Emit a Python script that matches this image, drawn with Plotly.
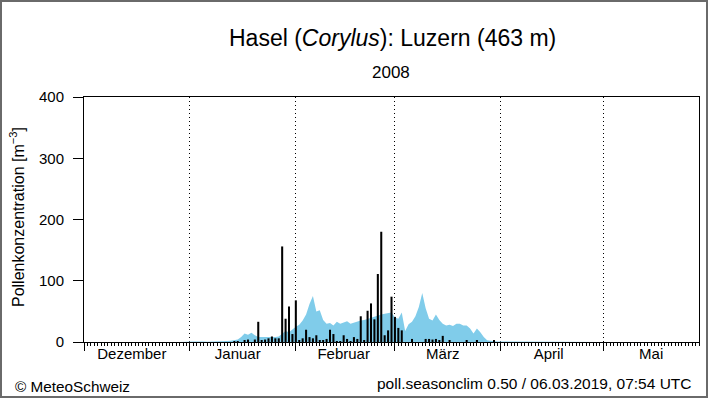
import plotly.graph_objects as go

# ---------------- data ----------------
month_names = ["Dezember", "Januar", "Februar", "März", "April", "Mai"]
month_starts = [0, 31, 62, 91, 122, 152]          # day index, 0 = 1 Dec 2007
label_day_offset = 14                              # labels sit at the 15th
y_ticks = [0, 100, 200, 300, 400]

# daily pollen counts (black bars)
bar_days = [44, 45, 47, 48, 50, 51, 52, 53, 54, 55, 56, 57, 58, 59, 60, 61, 62,
            63, 64, 65, 66, 67, 68, 69, 70, 71, 72, 73, 74, 75, 76, 77, 78, 79,
            80, 81, 82, 83, 84, 85, 86, 87, 88, 89, 90, 91, 92, 93, 96, 100,
            101, 102, 103, 104, 105, 107, 112, 115, 120]
bar_vals = [1, 1, 2, 4, 4, 33, 2, 4, 6, 9, 6, 6, 156, 38, 58, 13, 68,
            3, 6, 20, 8, 6, 11, 2, 2, 5, 20, 13, 1, 1, 11, 5, 1, 8,
            5, 42, 3, 51, 63, 37, 111, 180, 11, 19, 74, 41, 23, 19, 5, 5,
            5, 4, 5, 3, 10, 2, 2, 2, 2]

# climatology (blue area)
clim_days = list(range(28, 152))
clim_vals = [0, 0.5, 0.5, 0.5, 1, 1, 1.5, 1, 0.5, 0.5, 1, 1.5, 1, 1, 1.5, 2,
             3, 4, 8, 14, 12, 15, 11, 8, 8, 8, 8, 7, 8, 9, 14, 18, 16, 21,
             25, 28, 35, 45, 62, 75, 50, 52, 36, 30, 31, 27, 33, 30, 32, 34,
             30, 32, 34, 35, 36, 38, 40, 42, 44, 45, 46, 47, 48, 40, 38, 48,
             18, 29, 33, 42, 57, 80, 55, 38, 35, 45, 36, 30, 27, 28, 26, 30,
             30, 27, 27, 22, 14, 22, 16, 8, 3, 2, 1, 1, 1, 1, 1, 1, 1, 1,
             1, 1, 1, 1, 1, 1, 1, 1, 1, 1, 1, 1, 1, 0.5, 0.5, 0.5, 0.5, 0.5,
             0.5, 0.5, 0.5, 0.5, 0.5, 0]

x_range = [0, 180]
y_range = [0, 400]

# ---------------- style ----------------
FONT = "Liberation Sans, Arial, Helvetica, sans-serif"
BLUE = "#80CCEA"
W, H = 708, 398
ML, MR, MT, MB = 84, 9, 97, 56
PW, PH = W - ML - MR, H - MT - MB

fig = go.Figure()
fig.add_trace(go.Scatter(x=clim_days, y=clim_vals, mode="lines", fill="tozeroy",
                         line=dict(width=0, color=BLUE), fillcolor=BLUE,
                         hoverinfo="skip", showlegend=False))
# bars live on the overlaying x2 axis so they are drawn above the blue area
fig.add_trace(go.Bar(x=bar_days, y=bar_vals, width=0.6, xaxis="x2", yaxis="y",
                     marker=dict(color="black", line=dict(width=0)),
                     showlegend=False))

label_pos = [m + label_day_offset for m in month_starts]

fig.update_layout(
    width=W, height=H,
    margin=dict(l=ML, r=MR, t=MT, b=MB, autoexpand=False),
    paper_bgcolor="white", plot_bgcolor="white",
    font=dict(family=FONT, color="black", size=15),
    showlegend=False,
    xaxis=dict(range=x_range, tickmode="array", tickvals=month_starts,
               ticks="outside", ticklen=8, tickcolor="black", tickwidth=1,
               showticklabels=False, showline=True, linecolor="black",
               linewidth=1, mirror=True, showgrid=True, gridcolor="black",
               griddash="1px,3px", gridwidth=1, zeroline=False,
               automargin=False,
               minor=dict(tickmode="linear", tick0=0, dtick=1, ticks="outside",
                          ticklen=3, tickcolor="black", tickwidth=1,
                          showgrid=False)),
    xaxis2=dict(range=x_range, overlaying="x", side="bottom", anchor="y",
                tickmode="array", tickvals=label_pos, ticktext=month_names,
                ticks="", ticklabelstandoff=1,
                showline=False, showgrid=False, zeroline=False,
                automargin=False, tickfont=dict(size=15)),
    yaxis=dict(range=y_range, tickmode="array", tickvals=y_ticks,
               ticks="outside", ticklen=10, tickcolor="black",
               showline=True, linecolor="black", linewidth=1, mirror=True,
               showgrid=False, zeroline=False, tickfont=dict(size=15),
               ticklabelstandoff=6, automargin=False),
)

def px_x(px):
    return (px - ML) / PW

def px_y(py):
    return (H - MB - py) / PH

fig.add_annotation(text="Hasel (<i>Corylus</i>): Luzern (463 m)",
                   xref="paper", yref="paper", x=px_x(392), y=px_y(38),
                   xanchor="center", yanchor="middle", showarrow=False,
                   font=dict(size=23))
fig.add_annotation(text="2008", xref="paper", yref="paper", x=px_x(391),
                   y=px_y(72), xanchor="center", yanchor="middle",
                   showarrow=False, font=dict(size=17))
fig.add_annotation(text="Pollenkonzentration [m<sup>−3</sup>]", textangle=-90,
                   xref="paper", yref="paper", x=px_x(17), y=px_y(217),
                   xanchor="center", yanchor="middle", showarrow=False,
                   font=dict(size=16))
fig.add_annotation(text="© MeteoSchweiz", xref="paper", yref="paper",
                   x=px_x(13), y=px_y(386), xanchor="left", yanchor="middle",
                   showarrow=False, font=dict(size=15.3))
fig.add_annotation(text="poll.seasonclim 0.50 / 06.03.2019, 07:54 UTC",
                   xref="paper", yref="paper", x=px_x(694), y=px_y(383),
                   xanchor="right", yanchor="middle", showarrow=False,
                   font=dict(size=15.5))

# outer frame of the image
fig.add_shape(type="rect", xref="paper", yref="paper",
              x0=px_x(1), x1=px_x(W - 1), y0=px_y(H - 1), y1=px_y(1),
              line=dict(color="#6a6a6a", width=2), fillcolor="rgba(0,0,0,0)",
              layer="above")

fig.write_html("out.html", config={"displayModeBar": False},
               post_script="document.body.style.margin='0';"
                           "document.body.style.overflow='hidden';")
